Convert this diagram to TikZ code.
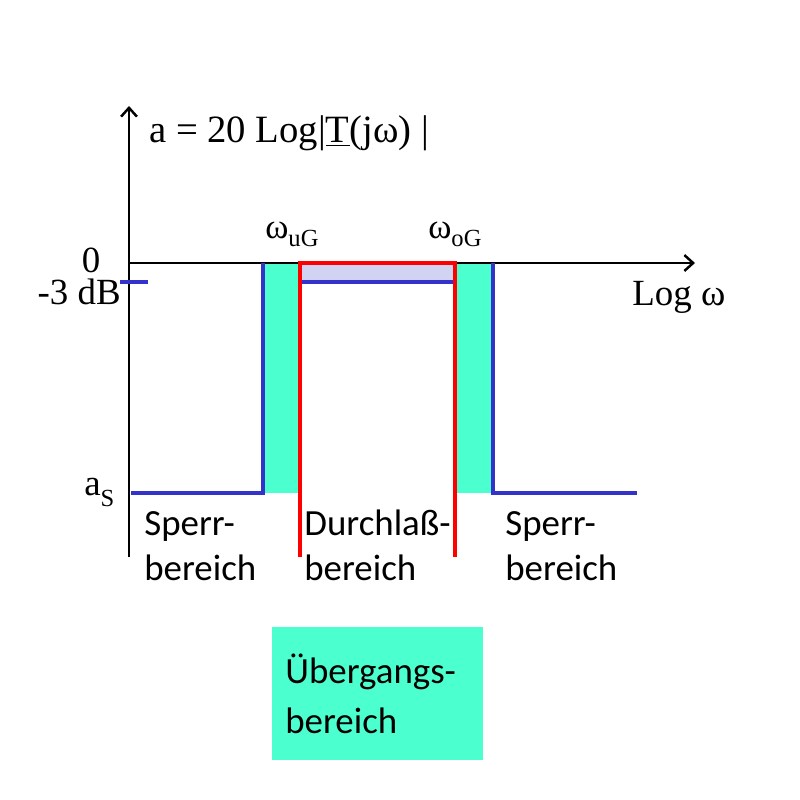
\documentclass[tikz,border=0pt]{standalone}
\usepackage{fontspec}
\setmainfont{Liberation Serif}
\newfontfamily\calfont{Carlito}
\usetikzlibrary{arrows.meta}

\definecolor{uebgruen}{HTML}{4BFFCF}
\definecolor{sperrblau}{HTML}{3333CC}
\definecolor{lavendel}{HTML}{D2D2F2}

\newcommand{\tiefsub}[2][5pt]{\raisebox{-#1}{\fontsize{14}{14}\selectfont #2}}

\begin{document}
\begin{tikzpicture}[x=0.02cm,y=-0.02cm,
    achse/.style={line width=1.4pt,-{Straight Barb[length=5pt,width=9pt]}},
    blau/.style={line width=2.3pt,color=sperrblau},
    rot/.style={line width=2.3pt,color=red},
    serif/.style={font=\fontsize{21}{24}\selectfont,inner sep=0pt},
    sans/.style={font=\calfont\fontsize{21}{25.5}\selectfont,inner sep=0pt,align=left}]
    \useasboundingbox (0,0) rectangle (800,800);

    % Grenzen der Bereiche (in Pixeln des Bildes)
    \def\xu{263}      %Sperrbereich links endet.
    \def\xuG{300}     %untere Grenzfrequenz.
    \def\xoG{455}     %obere Grenzfrequenz.
    \def\xo{493}      %Sperrbereich rechts beginnt.
    \def\ynull{263}   %0 dB.
    \def\ydrei{282}   %-3 dB.
    \def\ys{493}      %Sperrdaempfung a_S.
    \def\yunten{557}  %unteres Ende der Linien.

    % Koordinaten
    \coordinate (O) at (129,\ynull);
    \coordinate (ytop) at (129,106);
    \coordinate (ybot) at (129,\yunten);
    \coordinate (xend) at (695,\ynull);

    % Flaechen
    \fill[uebgruen] (\xu,\ynull) rectangle (\xuG,\ys);
    \fill[uebgruen] (\xoG,\ynull) rectangle (\xo,\ys);
    \fill[lavendel] (\xuG,\ynull) rectangle (\xoG,\ydrei);

    % Achsen
    \draw[achse] (ybot) -- (ytop);
    \draw[achse] (O) -- (xend);

    % Sperrbereiche und Durchlassbereich
    \draw[blau] (120,\ydrei) -- (148,\ydrei);
    \draw[blau] (131,\ys) -- (\xu,\ys) -- (\xu,\ynull);
    \draw[blau] (\xuG,\ydrei) -- (\xoG,\ydrei);
    \draw[blau] (\xo,\ynull) -- (\xo,\ys) -- (637,\ys);
    \draw[rot] (\xuG,\yunten) -- (\xuG,\ynull) -- (\xoG,\ynull) -- (\xoG,\yunten);

    % Beschriftung
    \node[serif,anchor=base west,font=\fontsize{22}{24}\selectfont] (titel) at (149,143) {a = 20 Log|\underline{T}(jω) |};
    \node[serif,anchor=base,text depth=0pt] (null) at (91,273) {0};
    \node[serif,anchor=base east,text height=12pt] (dreidb) at (121,304) {-3 dB};
    \node[serif,anchor=base west] (logw) at (632,305) {Log ω};
    \node[serif,anchor=base west,font=\fontsize{20}{24}\selectfont] (wuG) at (265,238) {ω\tiefsub{uG}};
    \node[serif,anchor=base west,font=\fontsize{20}{24}\selectfont] (woG) at (428,238) {ω\tiefsub{oG}};
    \node[serif,anchor=base west] (as) at (84,495) {a\tiefsub[6.5pt]{S}};

    \node[sans,anchor=base west] (sperrlinks) at (144,580) {Sperr-\\bereich};
    \node[sans,anchor=base west] (durchlass) at (304,580) {Durchlaß-\\bereich};
    \node[sans,anchor=base west] (sperrrechts) at (505,580) {Sperr-\\bereich};

    % Legende
    \fill[uebgruen] (272,627) rectangle (483,760);
    \node[sans,anchor=base west,font=\calfont\fontsize{21}{28.3}\selectfont] (uebergang) at (285,733) {Übergangs-\\bereich};
\end{tikzpicture}
\end{document}
